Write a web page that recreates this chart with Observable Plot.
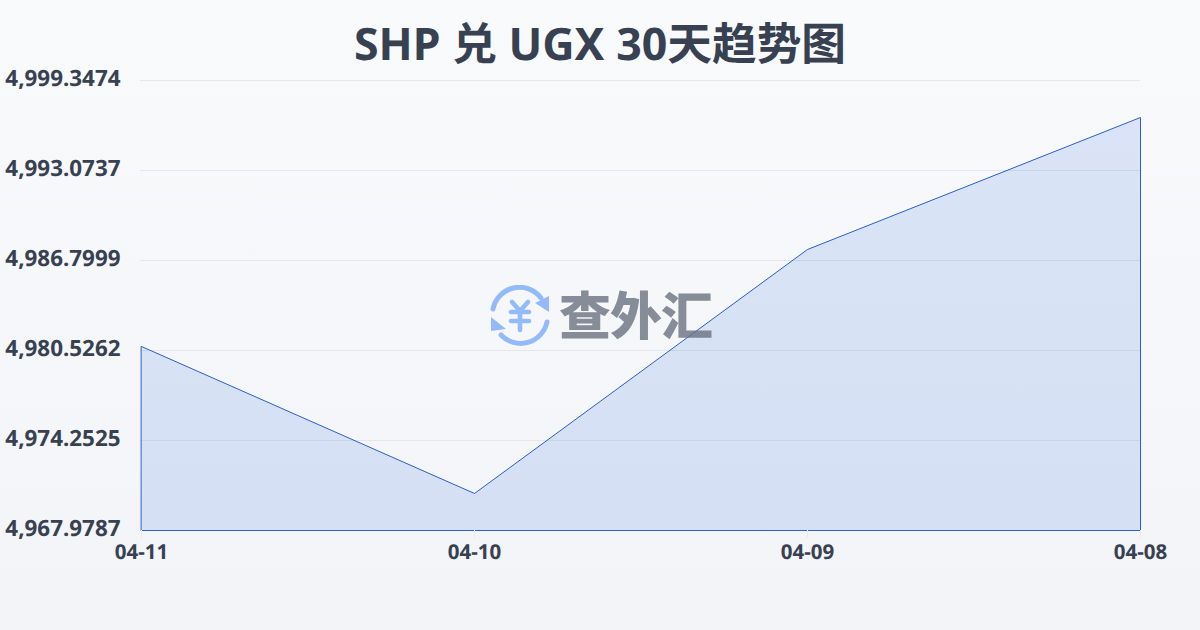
<!DOCTYPE html>
<html>
<head>
<meta charset="utf-8">
<script src="https://cdn.jsdelivr.net/npm/d3@7"></script>
<script src="https://cdn.jsdelivr.net/npm/@observablehq/plot@0.6"></script>
<style>
html,body{margin:0;padding:0;width:1200px;height:630px;overflow:hidden}
body{position:relative;background:linear-gradient(180deg,#f9fafc 0%,#f3f4f7 100%);font-family:"Noto Sans","Noto Sans CJK SC",sans-serif;text-rendering:geometricPrecision}
#title{position:absolute;left:0;top:13px;width:1200px;text-align:center;font:700 44.7px/62px "Noto Sans","Noto Sans CJK SC",sans-serif;color:#374151;z-index:2}
#chart{position:absolute;left:0;top:0}
#chart svg{background:transparent;display:block}
#mark{position:absolute;left:489px;top:285px;width:240px;height:64px;z-index:3}
#mark svg{position:absolute;left:0;top:0}
#mark span{position:absolute;left:70px;top:-9px;font:900 52px/74px "Noto Sans CJK SC",sans-serif;letter-spacing:-1px;color:#6b7280;opacity:.8;white-space:nowrap}
</style>
</head>
<body>
<div id="title">SHP 兑 UGX 30天趋势图</div>
<div id="chart"></div>
<div id="mark">
<svg width="64" height="64" viewBox="0 0 64 64" fill="none" stroke="#93bbfb" stroke-width="5" stroke-linecap="round">
<path d="M4 24 A27 27 0 0 1 52 13"/>
<path d="M58 37 A27 27 0 0 1 12 50"/>
<path d="M60 11 L60 27 L46 18 Z" fill="#93bbfb" stroke="none"/>
<path d="M2 32 L2 46 L17 44 Z" fill="#93bbfb" stroke="none"/>
<path d="M23 17 L31 26 L39 17 M22 27 H40 M22 36 H40 M31 26 V45" stroke-width="4.6"/>
</svg>
<span>查外汇</span>
</div>
<script>
const dates = ["04-11", "04-10", "04-09", "04-08"];
const rates = [4980.805, 4970.558, 4987.567, 4996.77];
const yTicks = [4967.9787, 4974.2525, 4980.5262, 4986.7999, 4993.0737, 4999.3474];
const yMin = yTicks[0];
const yMax = yTicks[yTicks.length - 1];
const table = dates.map((d, i) => ({date: d, rate: rates[i]}));

const plot = Plot.plot({
  width: 1200,
  height: 630,
  marginLeft: 140,
  marginRight: 60,
  marginTop: 80,
  marginBottom: 100,
  style: {background: "transparent", fontFamily: "'Noto Sans','Noto Sans CJK SC',sans-serif"},
  x: {type: "point", domain: dates, padding: 0, label: null},
  y: {domain: [yMin, yMax], label: null},
  marks: [
    Plot.ruleY(yTicks, {stroke: "#e5e7eb", strokeWidth: 1}),
    Plot.areaY(table, {x: "date", y1: () => yMin, y2: "rate", fill: "#2563e6", fillOpacity: 0.14, stroke: "#2a5fc8", strokeWidth: 1, curve: "linear", dx: 0.5, dy: 0.5}),
    Plot.axisY({ticks: yTicks, tickSize: 0, tickPadding: 20, tickFormat: d3.format(",.4f"), fontSize: 22.4, fontWeight: 700, fill: "#374151", dy: -2, label: null}),
    Plot.axisX({tickSize: 8, tickPadding: 6, stroke: "#e9ebee", fontSize: 20.5, fontWeight: 700, fill: "#374151", label: null})
  ]
});
document.getElementById("chart").appendChild(plot);
</script>
</body>
</html>
